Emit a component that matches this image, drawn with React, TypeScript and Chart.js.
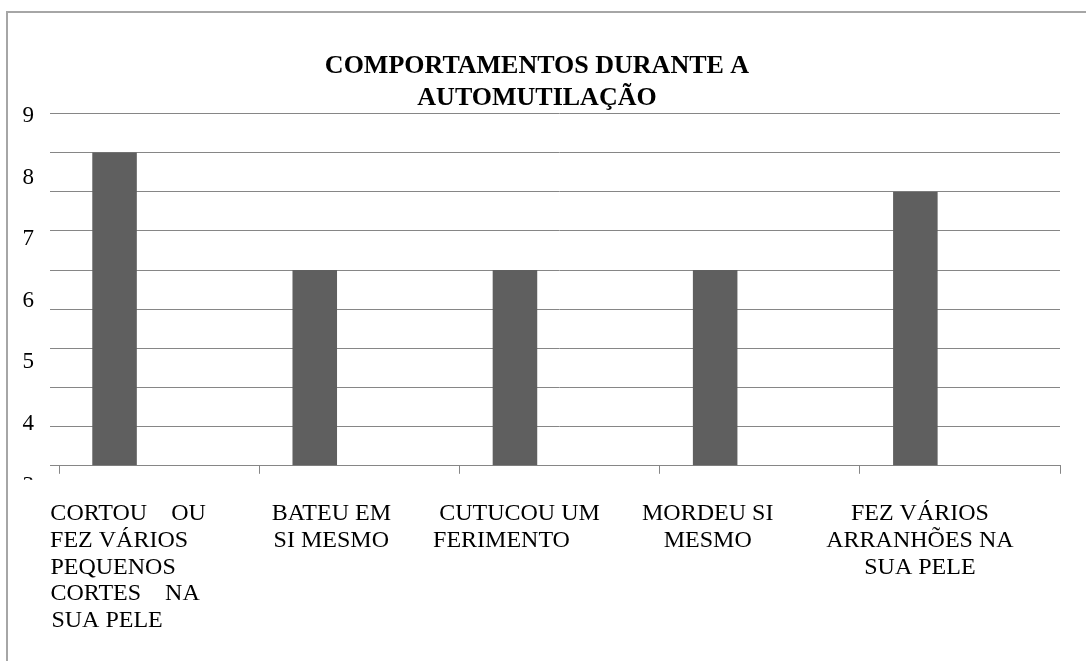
import React, { useEffect, useRef } from 'react';
import { Chart, registerables } from 'chart.js';

Chart.register(...registerables);

// ---- data ----
const categories: string[][] = [
  ['   CORTOU    OU', '   FEZ VÁRIOS   ', '   PEQUENOS     ', '  CORTES    NA', '   SUA PELE       '],
  ['    BATEU EM', '    SI MESMO'],
  ['CUTUCOU UM', 'FERIMENTO      '],
  ['MORDEU SI    ', 'MESMO    '],
  ['FEZ VÁRIOS', 'ARRANHÕES NA', 'SUA PELE'],
];
const values: number[] = [8, 5, 5, 5, 7];
const emptySeries: (number | null)[] = [null, null, null, null, null];
const titleLines: string[] = ['COMPORTAMENTOS DURANTE A', 'AUTOMUTILAÇÃO'];

// value axis (gridlines)
const gridMin = 0;
const gridMax = 9;
const gridStep = 1;
// tick-label axis as printed in the source (its labels do not line up with the gridlines)
const labelAxisMin = 3.32;
const labelAxisMax = 9.04;
const labelAxisTicks: number[] = [3, 4, 5, 6, 7, 8, 9];

const FONT = "'Liberation Serif', 'Times New Roman', serif";
const GRID = '#868686';
const BAR = '#5f5f5f';

const clipLabelsPlugin = {
  id: 'clipAxisLabels',
  afterLayout(chart: any) {
    const s: any = chart.scales.yl;
    if (!s || s.__clipPatched) return;
    const orig = s.drawLabels;
    s.drawLabels = function (area: any) {
      const ctx = chart.ctx;
      ctx.save();
      ctx.beginPath();
      ctx.rect(0, 0, chart.width, chart.chartArea.bottom + 14);
      ctx.clip();
      orig.call(this, area);
      ctx.restore();
    };
    s.__clipPatched = true;
  },
};

export default function App() {
  const ref = useRef<HTMLCanvasElement | null>(null);

  useEffect(() => {
    if (!ref.current) return;
    const chart = new Chart(ref.current, {
      type: 'bar',
      data: {
        labels: categories,
        datasets: [
          {
            label: 'Série 1',
            data: values,
            backgroundColor: BAR,
            borderWidth: 0,
            categoryPercentage: 0.89,
            barPercentage: 0.5,
            xAxisID: 'x',
            yAxisID: 'y',
          },
          {
            label: 'Série 2',
            data: emptySeries,
            backgroundColor: '#a0a0a0',
            borderWidth: 0,
            categoryPercentage: 0.89,
            barPercentage: 0.5,
            xAxisID: 'x',
            yAxisID: 'y',
          },
        ],
      },
      options: {
        responsive: false,
        animation: false,
        devicePixelRatio: 1,
        layout: { padding: { left: 6, right: 26, top: 0, bottom: 0 } },
        plugins: {
          legend: { display: false },
          tooltip: { enabled: false },
          title: {
            display: true,
            text: titleLines,
            color: '#000',
            font: { family: FONT, size: 26, weight: 'bold', lineHeight: 1.2 },
            padding: { top: 38, bottom: 0 },
          },
        },
        scales: {
          x: {
            type: 'category',
            offset: true,
            grid: {
              display: true,
              offset: true,
              drawOnChartArea: false,
              drawTicks: true,
              tickLength: 8,
              color: GRID,
            },
            border: { display: true, color: GRID, width: 1 },
            ticks: {
              color: '#000',
              font: { family: FONT, size: 24, lineHeight: 1.11 },
              padding: 27,
              labelOffset: -40,
              maxRotation: 0,
              minRotation: 0,
              autoSkip: false,
            },
          },
          y: {
            type: 'linear',
            position: 'left',
            weight: 0,
            min: gridMin,
            max: gridMax,
            ticks: { display: false, stepSize: gridStep },
            grid: { color: GRID, drawTicks: true, tickLength: 9 },
            border: { display: false },
          },
          yl: {
            type: 'linear',
            position: 'left',
            weight: 1,
            min: labelAxisMin,
            max: labelAxisMax,
            afterBuildTicks: (s: any) => {
              s.ticks = labelAxisTicks.map((v) => ({ value: v }));
            },
            afterFit: (s: any) => {
              s.width = 36;
            },
            ticks: {
              color: '#000',
              font: { family: FONT, size: 23 },
              padding: 16,
              autoSkip: false,
              callback: (v: any) => String(v),
            },
            grid: { display: false, drawTicks: false },
            border: { display: false },
          },
        },
      } as any,
      plugins: [clipLabelsPlugin],
    });
    return () => chart.destroy();
  }, []);

  return (
    <div
      style={{
        position: 'absolute',
        left: 6,
        top: 11,
        width: 1080,
        height: 650,
        boxSizing: 'border-box',
        borderTop: '2px solid #a6a6a6',
        borderLeft: '2px solid #a6a6a6',
        background: '#fff',
      }}
    >
      <canvas
        ref={ref}
        width={1078}
        height={648}
        style={{ display: 'block', width: 1078, height: 648 }}
      />
    </div>
  );
}
